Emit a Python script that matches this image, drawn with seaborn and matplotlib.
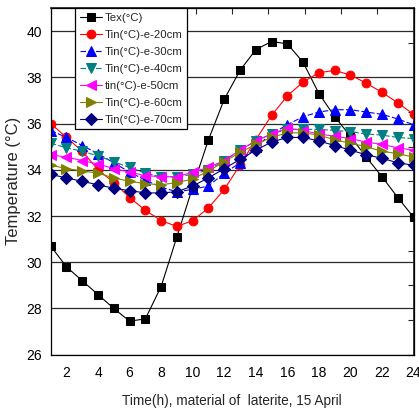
import numpy as np
import matplotlib
matplotlib.use("Agg")
import matplotlib.pyplot as plt
import seaborn as sns

sns.set_theme(style="white")
plt.rcParams["font.family"] = ["Liberation Sans", "DejaVu Sans"]

hours = list(range(1, 25))
tex = [30.7, 29.8, 29.2, 28.6, 28.0, 27.45, 27.55, 28.95, 31.1, 33.25, 35.3, 37.05,
       38.3, 39.2, 39.55, 39.45, 38.65, 37.3, 36.3, 35.45, 34.55, 33.7, 32.8, 31.95]
tin20 = [36.0, 35.4, 34.8, 34.0, 33.45, 32.8, 32.25, 31.8, 31.55, 31.8, 32.35, 33.15,
         34.2, 35.3, 36.35, 37.2, 37.8, 38.2, 38.3, 38.1, 37.75, 37.35, 36.9, 36.4]
tin30 = [35.7, 35.4, 35.05, 34.7, 34.3, 33.9, 33.55, 33.25, 33.05, 33.15, 33.3, 33.85,
         34.3, 35.0, 35.55, 35.95, 36.3, 36.5, 36.6, 36.6, 36.5, 36.4, 36.2, 35.95]
tin40 = [35.15, 34.95, 34.8, 34.6, 34.35, 34.1, 33.85, 33.7, 33.7, 33.8, 34.0, 34.4,
         34.85, 35.25, 35.55, 35.75, 35.75, 35.75, 35.7, 35.65, 35.55, 35.5, 35.4, 35.35]
tin50 = [34.65, 34.55, 34.4, 34.25, 34.05, 33.9, 33.75, 33.7, 33.7, 33.9, 34.1, 34.4,
         34.85, 35.25, 35.55, 35.8, 35.7, 35.55, 35.45, 35.35, 35.2, 35.1, 34.95, 34.85]
tin60 = [34.2, 34.05, 33.95, 33.85, 33.65, 33.5, 33.4, 33.35, 33.45, 33.6, 33.95, 34.35,
         34.75, 35.1, 35.4, 35.6, 35.6, 35.5, 35.3, 35.15, 35.0, 34.8, 34.7, 34.55]
tin70 = [33.8, 33.65, 33.5, 33.35, 33.2, 33.1, 33.0, 33.0, 33.05, 33.3, 33.65, 34.05,
         34.45, 34.85, 35.2, 35.4, 35.4, 35.25, 35.05, 34.85, 34.65, 34.5, 34.3, 34.2]

series_labels = ["Tex(°C)", "Tin(°C)-e-20cm", "Tin(°C)-e-30cm", "Tin(°C)-e-40cm",
                 "tin(°C)-e-50cm", "Tin(°C)-e-60cm", "Tin(°C)-e-70cm"]
x_ticks = list(range(2, 25, 2))
y_ticks = list(range(26, 41, 2))
x_label = "Time(h), material of  laterite, 15 April"
y_label = "Temperature (°C)"

series = [tex, tin20, tin30, tin40, tin50, tin60, tin70]
colors = ["#000000", "#FF0000", "#0000FF", "#008080", "#FF00FF", "#808000", "#000080"]
markers = ["s", "o", "^", "v", "<", ">", "D"]
line_styles = ["-", "-", (0, (5, 2)), (0, (5, 2)), "-", "-", "-"]
marker_sizes = [5.8, 6.3, 6.8, 6.8, 6.8, 6.8, 5.8]

fig = plt.figure(figsize=(4.19, 4.09), dpi=100)
ax = fig.add_axes([0.121, 0.1328, 0.866, 0.8476])

for vals, lab, c, m, ls, ms in zip(series, series_labels, colors, markers, line_styles, marker_sizes):
    sns.lineplot(x=hours, y=vals, ax=ax, color=c, marker=m, markersize=ms,
                 markeredgecolor=c, markerfacecolor=c, linewidth=0.8,
                 linestyle=ls, label=lab)

ax.set_xlim(1, 24)
ax.set_ylim(26, 41)
ax.set_xticks(x_ticks)
ax.set_xticks(range(1, 25, 2), minor=True)
ax.set_yticks(y_ticks)
ax.set_yticks(range(27, 41, 2), minor=True)
ax.yaxis.grid(True, which="major", color="#2a2a2a", linewidth=0.9)
ax.xaxis.grid(False)
ax.set_axisbelow(True)

ax.tick_params(axis="both", which="major", direction="out", length=4, width=0.8,
               labelsize=10, pad=2, colors="black")
ax.tick_params(axis="both", which="minor", direction="out", length=2.5, width=0.8)
ax.tick_params(axis="x", which="major", pad=4)

for sp in ax.spines.values():
    sp.set_color("black")
    sp.set_linewidth(0.9)

# Plain inward ticks along top and right edges
top = ax.secondary_xaxis("top")
top.set_xticks(np.linspace(1, 24, 11))
top.tick_params(direction="in", length=4, width=0.8, labeltop=False)
right = ax.secondary_yaxis("right")
right.set_yticks(np.linspace(26, 41, 11))
right.tick_params(direction="in", length=4, width=0.8, labelright=False)

ax.set_xlabel(x_label, fontsize=9.8, labelpad=10)
ax.set_ylabel(y_label, fontsize=12, labelpad=4)

leg = ax.legend(loc="upper left", bbox_to_anchor=(0.067, 1.0), fontsize=8.2,
                frameon=True, fancybox=False, edgecolor="black", framealpha=1,
                borderpad=0.4, labelspacing=0.62, handlelength=2.0,
                handletextpad=0.2, borderaxespad=0)
leg.get_frame().set_linewidth(0.9)

fig.savefig("out.png", dpi=100)
